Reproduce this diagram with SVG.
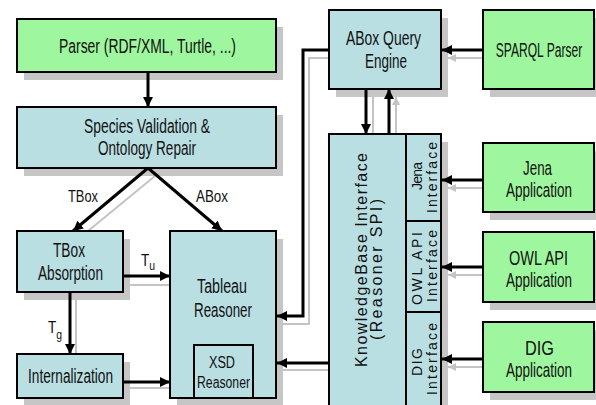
<svg xmlns="http://www.w3.org/2000/svg" width="596" height="405" viewBox="0 0 596 405">
<style>
.g{fill:#9ef79e;stroke:#000;stroke-width:2}
.b{fill:#b9dfe3;stroke:#000;stroke-width:2}
.sh{fill:#c6c6c6}
.t{font-family:"Liberation Sans",Arial,sans-serif;font-size:19.5px;fill:#111;text-anchor:middle}
.s{font-size:17px}
.x{font-size:16px}
.v{font-family:"Liberation Sans",Arial,sans-serif;font-size:16px;fill:#111;text-anchor:middle}
.vs{font-size:14px}
.c{fill:none;stroke:#000;stroke-width:3}
.cg{fill:none;stroke:#c4c4c4;stroke-width:2}
</style>
<defs>
<marker id="ah" viewBox="0 0 10 10" refX="10" refY="5" markerWidth="10" markerHeight="10" markerUnits="userSpaceOnUse" orient="auto">
<path d="M0,0 L10,5 L0,10 z" fill="#000"/>
</marker>
<marker id="ahg" viewBox="0 0 10 10" refX="10" refY="5" markerWidth="8" markerHeight="8" markerUnits="userSpaceOnUse" orient="auto">
<path d="M0,0 L10,5 L0,10 z" fill="#c4c4c4"/>
</marker>
</defs>
<rect width="596" height="405" fill="#fff"/>

<g id="connectors-shadow">
<line class="cg" x1="155" y1="176" x2="88" y2="231"/>
<line class="cg" x1="123" y1="285" x2="170" y2="285"/>
<line class="cg" x1="76" y1="292" x2="76" y2="354"/>
<line class="cg" x1="123" y1="388" x2="170" y2="388"/>
<line class="cg" x1="483" y1="58" x2="448" y2="58" marker-end="url(#ahg)"/>
<path class="cg" d="M329,58 H309 V324 H282"/>
<line class="cg" x1="329" y1="370" x2="282" y2="370"/>
<line class="cg" x1="373" y1="89" x2="373" y2="134"/>
<line class="cg" x1="396" y1="134" x2="396" y2="97" marker-end="url(#ahg)"/>
<line class="cg" x1="483" y1="188" x2="448" y2="188" marker-end="url(#ahg)"/>
<line class="cg" x1="483" y1="275" x2="448" y2="275" marker-end="url(#ahg)"/>
<line class="cg" x1="483" y1="367" x2="448" y2="367" marker-end="url(#ahg)"/>
</g>

<g id="parser">
<rect class="sh" x="24" y="27" width="259" height="53"/>
<rect class="g" x="17" y="19" width="259" height="53"/>
<text class="t" x="147.5" y="53" textLength="177" lengthAdjust="spacingAndGlyphs">Parser (RDF/XML, Turtle, ...)</text>
</g>

<g id="species">
<rect class="sh" x="24" y="115" width="259" height="61"/>
<rect class="b" x="17" y="107" width="259" height="61"/>
<text class="t" x="147" y="133" textLength="126" lengthAdjust="spacingAndGlyphs">Species Validation &amp;</text>
<text class="t" x="147" y="155" textLength="98" lengthAdjust="spacingAndGlyphs">Ontology Repair</text>
</g>

<g id="tbox-absorption">
<rect class="sh" x="24" y="239" width="106" height="61"/>
<rect class="b" x="17" y="231" width="106" height="61"/>
<text class="t" x="69" y="257" textLength="32" lengthAdjust="spacingAndGlyphs">TBox</text>
<text class="t" x="70.5" y="280" textLength="65" lengthAdjust="spacingAndGlyphs">Absorption</text>
</g>

<g id="internalization">
<rect class="sh" x="24" y="362" width="106" height="44"/>
<rect class="b" x="17" y="354" width="106" height="44"/>
<text class="t" x="70.5" y="383" textLength="85" lengthAdjust="spacingAndGlyphs">Internalization</text>
</g>

<g id="tableau-reasoner">
<rect class="sh" x="177" y="239" width="106" height="167"/>
<rect class="b" x="170" y="231" width="106" height="167"/>
<text class="t" x="222" y="293" textLength="50" lengthAdjust="spacingAndGlyphs">Tableau</text>
<text class="t" x="223" y="317" textLength="58" lengthAdjust="spacingAndGlyphs">Reasoner</text>
</g>

<g id="xsd-reasoner">
<rect class="b" x="194" y="345" width="59" height="53"/>
<text class="t x" x="222" y="368" textLength="26" lengthAdjust="spacingAndGlyphs">XSD</text>
<text class="t x" x="223.5" y="388" textLength="53" lengthAdjust="spacingAndGlyphs">Reasoner</text>
</g>

<g id="abox-query-engine">
<rect class="sh" x="336" y="18" width="112" height="79"/>
<rect class="b" x="329" y="10" width="112" height="79"/>
<text class="t" x="383.5" y="45" textLength="75" lengthAdjust="spacingAndGlyphs">ABox Query</text>
<text class="t" x="386" y="68" textLength="42" lengthAdjust="spacingAndGlyphs">Engine</text>
</g>

<g id="sparql-parser">
<rect class="sh" x="490" y="18" width="106" height="79"/>
<rect class="g" x="483" y="10" width="111" height="79"/>
<text class="t" transform="translate(539,57) scale(0.62,1)" x="0" y="0">SPARQL Parser</text>
</g>

<g id="kb-interface">
<rect class="sh" x="336" y="142" width="112" height="280"/>
<rect class="b" x="329" y="134" width="112" height="285"/>
<line x1="406" y1="134" x2="406" y2="420" stroke="#000" stroke-width="2"/>
<line x1="406" y1="221" x2="441" y2="221" stroke="#000" stroke-width="2"/>
<line x1="406" y1="312" x2="441" y2="312" stroke="#000" stroke-width="2"/>
<text class="v" transform="translate(367,260) rotate(-90)" textLength="214">KnowledgeBase Interface</text>
<text class="v" transform="translate(382,269.5) rotate(-90)" textLength="141">(Reasoner SPI)</text>
</g>

<g id="jena-interface">
<text class="v vs" transform="translate(422,176) rotate(-90)" textLength="28">Jena</text>
<text class="v vs" transform="translate(436.5,177.5) rotate(-90)" textLength="71">Interface</text>
</g>

<g id="owlapi-interface">
<text class="v vs" transform="translate(422,268.5) rotate(-90)" textLength="73">OWL API</text>
<text class="v vs" transform="translate(436.5,266) rotate(-90)" textLength="72">Interface</text>
</g>

<g id="dig-interface">
<text class="v vs" transform="translate(422,362) rotate(-90)" textLength="28">DIG</text>
<text class="v vs" transform="translate(436.5,359) rotate(-90)" textLength="72">Interface</text>
</g>

<g id="jena-application">
<rect class="sh" x="490" y="151" width="106" height="69"/>
<rect class="g" x="483" y="143" width="111" height="69"/>
<text class="t" transform="translate(537.5,175) scale(0.7,1)" textLength="41.4" lengthAdjust="spacingAndGlyphs">Jena</text>
<text class="t" transform="translate(539,197) scale(0.7,1)" textLength="94.3" lengthAdjust="spacingAndGlyphs">Application</text>
</g>

<g id="owlapi-application">
<rect class="sh" x="490" y="240" width="106" height="70"/>
<rect class="g" x="483" y="232" width="111" height="70"/>
<text class="t" transform="translate(538.5,265) scale(0.7,1)" textLength="84.3" lengthAdjust="spacingAndGlyphs">OWL API</text>
<text class="t" transform="translate(539,287) scale(0.7,1)" textLength="94.3" lengthAdjust="spacingAndGlyphs">Application</text>
</g>

<g id="dig-application">
<rect class="sh" x="490" y="330" width="106" height="70"/>
<rect class="g" x="483" y="322" width="111" height="70"/>
<text class="t" transform="translate(539.5,355) scale(0.7,1)" textLength="41.4" lengthAdjust="spacingAndGlyphs">DIG</text>
<text class="t" transform="translate(539,377) scale(0.7,1)" textLength="94.3" lengthAdjust="spacingAndGlyphs">Application</text>
</g>

<g id="connectors">
<line class="c" x1="148" y1="72" x2="148" y2="107" marker-end="url(#ah)"/>
<line class="c" x1="148" y1="168" x2="73" y2="231" marker-end="url(#ah)"/>
<line class="c" x1="148" y1="168" x2="222" y2="231" marker-end="url(#ah)"/>
<line class="c" x1="123" y1="276" x2="170" y2="276" marker-end="url(#ah)"/>
<line class="c" x1="70" y1="292" x2="70" y2="354" marker-end="url(#ah)"/>
<line class="c" x1="123" y1="382" x2="170" y2="382" marker-end="url(#ah)"/>
<line class="c" x1="483" y1="50" x2="442" y2="50" marker-end="url(#ah)"/>
<path class="c" d="M329,50 H303 V316 H277" marker-end="url(#ah)"/>
<line class="c" x1="329" y1="363" x2="277" y2="363" marker-end="url(#ah)"/>
<line class="c" x1="366" y1="89" x2="366" y2="134" marker-end="url(#ah)"/>
<line class="c" x1="389" y1="134" x2="389" y2="89" marker-end="url(#ah)"/>
<line class="c" x1="483" y1="180" x2="442" y2="180" marker-end="url(#ah)"/>
<line class="c" x1="483" y1="267" x2="442" y2="267" marker-end="url(#ah)"/>
<line class="c" x1="483" y1="359" x2="442" y2="359" marker-end="url(#ah)"/>
<text class="t s" x="83" y="202" textLength="30" lengthAdjust="spacingAndGlyphs">TBox</text>
<text class="t s" x="212" y="202" textLength="32" lengthAdjust="spacingAndGlyphs">ABox</text>
<text class="t s" x="141" y="266" style="text-anchor:start" transform="translate(141,0) scale(0.8,1) translate(-141,0)">T<tspan font-size="13" dy="4">u</tspan></text>
<text class="t s" x="48" y="333" style="text-anchor:start" transform="translate(48,0) scale(0.8,1) translate(-48,0)">T<tspan font-size="13" dy="6">g</tspan></text>
</g>
</svg>
